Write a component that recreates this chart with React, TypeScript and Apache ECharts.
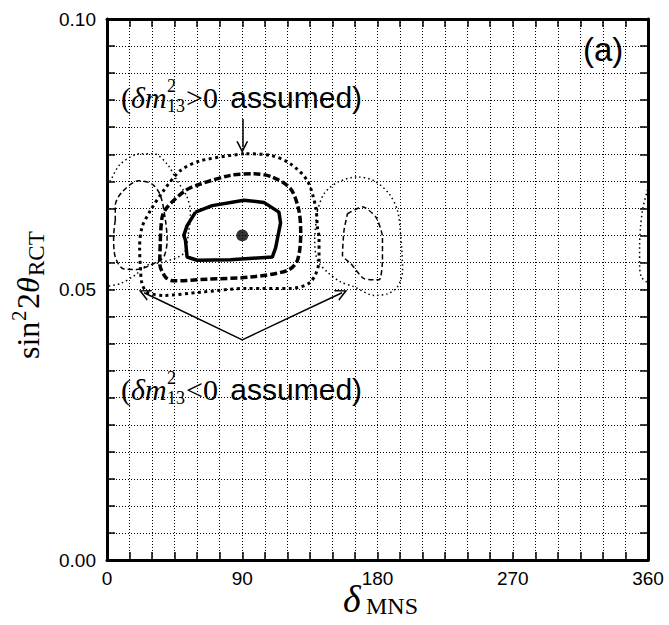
import React, { useEffect, useRef } from 'react';
import * as echarts from 'echarts';

// ---- data ----
const xTicks = [0, 90, 180, 270, 360];
const yTicks = [0, 0.05, 0.1];
const bestFit: [number, number][] = [[90, 0.06]];

const contourSolid: [number, number][] = [
  [58.9, 0.0643], [70, 0.0655], [91.1, 0.0665], [104.4, 0.0661], [114.4, 0.0643], [115.5, 0.0623],
  [112.2, 0.0577], [110, 0.056], [82.2, 0.0555], [60, 0.0554], [53.3, 0.056], [52.2, 0.0591],
  [51.1, 0.06], [53.3, 0.0618], [58.9, 0.0643],
];
const contourHeavyDashed: [number, number][] = [
  [35.5, 0.0591], [36.7, 0.0634], [40, 0.0652], [52.2, 0.0683], [62.2, 0.0695], [82.2, 0.0711],
  [97.7, 0.0714], [110, 0.0708], [122.2, 0.0686], [127.7, 0.0646], [128.9, 0.0603], [126.7, 0.0554],
  [120, 0.0535], [95.5, 0.0523], [66.7, 0.0519], [44.4, 0.0516], [38.9, 0.0523], [35.1, 0.0548],
  [35.5, 0.0591],
];
const contourHeavyDotted: [number, number][] = [
  [91.1, 0.0751], [62.2, 0.0738], [48.9, 0.072], [37.7, 0.0683], [28.9, 0.0646], [23.3, 0.0615],
  [21.7, 0.0578], [22.2, 0.0542], [23.3, 0.0511], [26.7, 0.0495], [37.7, 0.0489], [62.2, 0.0495],
  [93.3, 0.0502], [122.2, 0.0502], [135.5, 0.0514], [141.1, 0.0554], [141.1, 0.0597], [140, 0.0615],
  [138.9, 0.0652], [133.3, 0.0701], [122.2, 0.0732], [108.9, 0.0748], [91.1, 0.0751],
];
const contourThinDashedLeft: [number, number][] = [
  [5.5, 0.0628], [4.4, 0.0597], [5.5, 0.056], [11.1, 0.0538], [20, 0.0537], [31.1, 0.0548],
  [37.7, 0.056], [40, 0.0591], [38.9, 0.0628], [35.5, 0.0674], [30, 0.0695], [21.1, 0.0701],
  [10, 0.068], [5.5, 0.0655], [5.5, 0.0628],
];
const contourThinDashedRight: [number, number][] = [
  [160, 0.064], [170, 0.0653], [178.9, 0.0634], [183.3, 0.0597], [183.3, 0.0554], [181.1, 0.0518],
  [171.1, 0.052], [162.2, 0.0548], [156.7, 0.0563], [157.7, 0.0609], [160, 0.064],
];
const contourThinDottedLeft: [number, number][] = [
  [0, 0.0693], [2.2, 0.0701], [8.9, 0.0732], [22.2, 0.0751], [31.1, 0.0751], [40, 0.0732],
  [46.7, 0.0701], [53.3, 0.0671], [55.5, 0.0641], [54.2, 0.0604], [51.1, 0.0567], [37.8, 0.0551],
  [26.7, 0.0545], [18.9, 0.0527], [8.9, 0.0511], [0, 0.0506],
];
const contourThinDottedWrap: [number, number][] = [
  [360, 0.0693], [359.5, 0.0683], [356.7, 0.0652], [355, 0.0615], [354.4, 0.0578], [354.4, 0.0548],
  [355.5, 0.0523], [358.9, 0.0514], [360, 0.0506],
];
const contourThinDottedRight: [number, number][] = [
  [140, 0.0646], [144.4, 0.0677], [153.3, 0.0698], [166.7, 0.0708], [177.7, 0.0701], [187.7, 0.0677],
  [193.3, 0.0646], [195.5, 0.0597], [196.7, 0.0535], [193.3, 0.0505], [186.7, 0.0492], [177.7, 0.0489],
  [164.4, 0.0505], [155.5, 0.0514], [146.7, 0.0532], [140, 0.0554], [138.2, 0.0591], [140, 0.0646],
];
// arrow annotations: [from, to]
const arrowDown: [number, number][] = [[90, 0.0815], [90, 0.0763]];
const arrowLeft: [number, number][] = [[90, 0.0407], [24.7, 0.0494]];
const arrowRight: [number, number][] = [[90, 0.0407], [156.4, 0.0494]];

const SERIF = "'Liberation Serif', 'Times New Roman', serif";
const SANS = "'Liberation Sans', Arial, sans-serif";

function txt(text: string, x: number, baseline: number, size: number, family: string, italic = false) {
  return {
    type: 'text',
    x,
    y: baseline - 0.34 * size,
    silent: true,
    style: {
      text,
      fill: '#000',
      fontSize: size,
      fontFamily: family,
      fontStyle: italic ? 'italic' : 'normal',
      align: 'left',
      verticalAlign: 'middle',
      lineHeight: Math.round(size * 0.9),
    },
  };
}

function assumedLabel(sign: string, baseline: number) {
  return [
    txt('(', 121, baseline, 30, SERIF),
    txt('δm', 131, baseline, 30, SERIF, true),
    txt('2', 167, baseline - 16, 18, SERIF),
    txt('13', 167, baseline + 4, 18, SERIF),
    txt(sign + '0', 186, baseline, 30, SERIF),
    txt(' assumed)', 222, baseline, 30, SANS),
  ];
}

function contour(data: [number, number][], width: number, type: any, smooth: number) {
  return {
    type: 'line',
    data,
    showSymbol: false,
    symbol: 'none',
    smooth,
    silent: true,
    clip: true,
    z: 3,
    lineStyle: { color: '#000', width, type, cap: 'butt' },
  };
}

const dotted = { color: '#000', width: 1, type: [1, 2] };

function makeAxis(dim: 'x' | 'y', position: string, primary: boolean) {
  const isX = dim === 'x';
  return {
    type: 'value',
    position,
    min: isX ? xTicks[0] : yTicks[0],
    max: isX ? xTicks[xTicks.length - 1] : yTicks[yTicks.length - 1],
    interval: isX ? xTicks[1] - xTicks[0] : yTicks[1] - yTicks[0],
    axisLine: { show: true, onZero: false, lineStyle: { color: '#000', width: 3 } },
    axisTick: { show: true, inside: true, length: 8, lineStyle: { color: '#000', width: 1.5 } },
    minorTick: { show: true, splitNumber: isX ? 6 : 10, length: 8, lineStyle: { color: '#000', width: 1.5 } },
    splitLine: { show: primary, lineStyle: dotted },
    minorSplitLine: { show: primary, lineStyle: dotted },
    axisLabel: primary
      ? {
          show: true,
          color: '#000',
          fontSize: 19,
          fontFamily: SANS,
          margin: isX ? 9 : 11,
          formatter: (v: number) => (isX ? String(v) : v.toFixed(2)),
        }
      : { show: false },
  };
}

export default function App() {
  const ref = useRef<HTMLDivElement>(null);
  useEffect(() => {
    const chart = echarts.init(ref.current!, null, { renderer: 'svg' });
    const arrowSym = 'path://M50,0 L100,100 L86,100 L50,28 L14,100 L0,100 Z';
    const option: any = {
      animation: false,
      backgroundColor: '#fff',
      grid: { left: 107, top: 19, width: 541, height: 541, containLabel: false },
      xAxis: [makeAxis('x', 'bottom', true), makeAxis('x', 'top', false)],
      yAxis: [makeAxis('y', 'left', true), makeAxis('y', 'right', false)],
      series: [
        contour(contourThinDottedLeft, 1.5, [1.5, 3], 0.3),
        contour(contourThinDottedWrap, 1.5, [1.5, 3], 0.3),
        contour(contourThinDottedRight, 1.5, [1.5, 3], 0.3),
        contour(contourThinDashedLeft, 1.5, [5, 3], 0.3),
        contour(contourThinDashedRight, 1.5, [5, 3], 0.2),
        contour(contourHeavyDotted, 3, [3, 3.5], 0.3),
        contour(contourHeavyDashed, 3.5, [7, 3], 0.3),
        contour(contourSolid, 3.5, 'solid', 0),
        {
          type: 'scatter',
          data: bestFit,
          symbol: 'circle',
          symbolSize: 12,
          itemStyle: { color: '#000' },
          silent: true,
          z: 5,
        },
        {
          type: 'line',
          data: [],
          silent: true,
          z: 6,
          markLine: {
            silent: true,
            symbol: ['none', arrowSym],
            symbolSize: 12,
            label: { show: false },
            itemStyle: { color: '#000' },
            lineStyle: { color: '#000', width: 1.5, type: 'solid' },
            emphasis: { disabled: true },
            data: [arrowDown, arrowLeft, arrowRight].map((a) => [
              { coord: a[0] },
              { coord: a[1] },
            ]),
          },
        },
      ],
      graphic: [
        ...assumedLabel('>', 108),
        ...assumedLabel('<', 400),
        txt('(a)', 583, 61, 33, SANS),
        txt('δ', 343, 612, 38, SERIF, true),
        txt('MNS', 366, 614, 24, SERIF),
        {
          type: 'group',
          x: 39,
          y: 359,
          rotation: Math.PI / 2,
          children: [
            txt('sin', 0, 0, 32, SERIF),
            txt('2', 38, -13, 21, SERIF),
            txt('2', 50, 0, 32, SERIF),
            txt('θ', 66, 0, 32, SERIF, true),
            txt('RCT', 83, 5, 23, SERIF),
          ],
        },
      ],
    };
    chart.setOption(option);
    return () => chart.dispose();
  }, []);
  return (
    <div
      ref={ref}
      style={{ position: 'absolute', left: 0, top: 0, width: 669, height: 625, background: '#fff' }}
    />
  );
}
